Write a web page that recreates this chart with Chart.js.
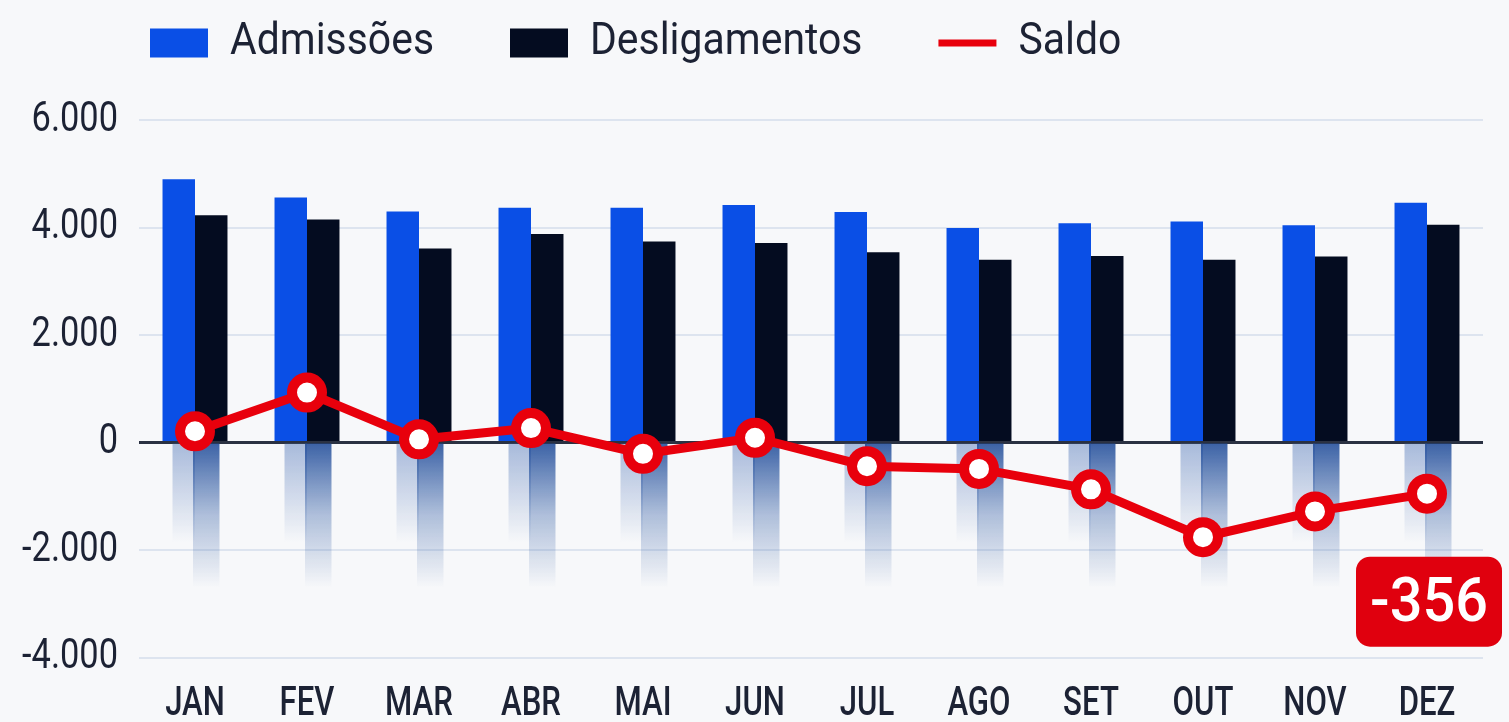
<!DOCTYPE html>
<html>
<head>
<meta charset="utf-8">
<script src="https://cdn.jsdelivr.net/npm/chart.js@4.4.1/dist/chart.umd.min.js"></script>
<style>
  html, body { margin: 0; padding: 0; background: #f7f8fa; }
  #wrap { width: 1509px; height: 722px; }
  canvas { display: block; }
</style>
</head>
<body>
<div id="wrap"><canvas id="c" width="1509" height="722"></canvas></div>
<script>
// ---- data ----
const categories = ['JAN', 'FEV', 'MAR', 'ABR', 'MAI', 'JUN', 'JUL', 'AGO', 'SET', 'OUT', 'NOV', 'DEZ'];
const admissoes = [4900, 4560, 4300, 4370, 4370, 4420, 4290, 3990, 4080, 4110, 4040, 4460];
const desligamentos = [4230, 4150, 3610, 3880, 3740, 3710, 3540, 3400, 3470, 3400, 3460, 4050];
const saldo = [210, 930, 60, 270, -210, 90, -440, -490, -870, -1760, -1280, -950];
const seriesNames = ['Admissões', 'Desligamentos', 'Saldo'];
const yTicks = [-4000, -2000, 0, 2000, 4000, 6000];
const yTickLabels = ['-4.000', '-2.000', '0', '2.000', '4.000', '6.000'];
const destaque = '-356';

// ---- styles ----
const BLUE = '#0a4fe6';
const DARK = '#040c20';
const RED = '#e8000c';
const TEXT = '#1c2234';
const FONT = 'Roboto, "Noto Sans", "DejaVu Sans", sans-serif';
const LEGEND_PAD = 76;

const canvas = document.getElementById('c');
const ctx = canvas.getContext('2d');

// condensed look: horizontal text compression per font size
function kFor(font) {
  const m = /(\d+(?:\.\d+)?)px/.exec(font || '');
  const s = m ? parseFloat(m[1]) : 12;
  if (s >= 55) return 0.93;
  if (s >= 44) return 0.93;
  if (s >= 43) return 0.80;
  return 0.76;
}
const origMeasure = ctx.measureText.bind(ctx);
const origFill = ctx.fillText.bind(ctx);
ctx.measureText = function (t) {
  const m = origMeasure(t);
  const k = kFor(this.font);
  return {
    width: m.width * k,
    actualBoundingBoxAscent: m.actualBoundingBoxAscent,
    actualBoundingBoxDescent: m.actualBoundingBoxDescent,
    actualBoundingBoxLeft: m.actualBoundingBoxLeft * k,
    actualBoundingBoxRight: m.actualBoundingBoxRight * k,
    fontBoundingBoxAscent: m.fontBoundingBoxAscent,
    fontBoundingBoxDescent: m.fontBoundingBoxDescent
  };
};
ctx.fillText = function (t, x, y) {
  const k = kFor(this.font);
  this.save();
  this.translate(x, y);
  this.scale(k, 1);
  origFill(t, 0, 0);
  this.restore();
};

const reflectionPlugin = {
  id: 'reflection',
  beforeDatasetsDraw(chart) {
    const c = chart.ctx;
    const y0 = chart.scales.y.getPixelForValue(0);
    c.save();
    [0, 1].forEach(di => {
      const meta = chart.getDatasetMeta(di);
      meta.data.forEach(bar => {
        const p = bar.getProps(['x', 'width'], true);
        const len = di === 0 ? 100 : 145;
        const g = c.createLinearGradient(0, y0, 0, y0 + len);
        if (di === 0) {
          g.addColorStop(0, 'rgba(70,110,180,0.45)');
          g.addColorStop(1, 'rgba(70,110,180,0)');
        } else {
          g.addColorStop(0, 'rgba(25,70,150,0.85)');
          g.addColorStop(0.5, 'rgba(40,85,160,0.35)');
          g.addColorStop(1, 'rgba(40,85,160,0)');
        }
        c.fillStyle = g;
        const left = p.x - p.width / 2 + (di === 0 ? 10 : -2);
        const w = p.width - (di === 0 ? 10 : 6);
        c.fillRect(left, y0 + 1, w, len);
      });
    });
    c.restore();
  }
};

const legendShift = {
  id: 'legendShift',
  beforeDraw(chart) {
    if (chart.legend) {
      chart.legend.top = 21 - LEGEND_PAD;
      chart.legend.left = 150 - LEGEND_PAD;
    }
  }
};

const badgePlugin = {
  id: 'badge',
  afterDatasetsDraw(chart) {
    const meta = chart.getDatasetMeta(2);
    const pt = meta.data[meta.data.length - 1];
    const c = chart.ctx;
    const w = 146, h = 90;
    const cx = pt.x + 2;
    const top = pt.y + 63;
    c.save();
    c.fillStyle = '#e0000e';
    c.beginPath();
    c.roundRect(cx - w / 2, top, w, h, 14);
    c.fill();
    c.fillStyle = '#ffffff';
    c.font = '500 62px ' + FONT;
    c.textAlign = 'center';
    c.textBaseline = 'middle';
    c.fillText(destaque, cx, top + h / 2 + 4);
    c.restore();
  }
};

new Chart(ctx, {
  data: {
    labels: categories,
    datasets: [
      {
        type: 'bar', label: seriesNames[0], data: admissoes,
        backgroundColor: BLUE, borderWidth: 0, order: 1,
        categoryPercentage: 0.58, barPercentage: 1.0
      },
      {
        type: 'bar', label: seriesNames[1], data: desligamentos,
        backgroundColor: DARK, borderWidth: 0, order: 1,
        categoryPercentage: 0.58, barPercentage: 1.0
      },
      {
        type: 'line', label: seriesNames[2], data: saldo,
        borderColor: RED, borderWidth: 9, tension: 0,
        pointRadius: 15, pointBorderWidth: 10,
        pointBackgroundColor: '#ffffff', pointBorderColor: RED,
        order: 0
      }
    ]
  },
  options: {
    responsive: false,
    animation: false,
    layout: { padding: { left: 0, right: 26, top: 20, bottom: 0 } },
    plugins: {
      tooltip: { enabled: false },
      legend: {
        position: 'top',
        align: 'start',
        maxHeight: 100,
        labels: {
          usePointStyle: true,
          pointStyleWidth: 58,
          boxHeight: 29,
          padding: LEGEND_PAD,
          color: TEXT,
          font: { family: FONT, size: 44, weight: '400' },
          generateLabels(chart) {
            const items = Chart.defaults.plugins.legend.labels.generateLabels(chart);
            items.sort((a, b) => a.datasetIndex - b.datasetIndex);
            items.forEach(it => {
              if (it.datasetIndex === 2) {
                it.pointStyle = 'line';
                it.lineWidth = 7;
                it.strokeStyle = RED;
                it.fillStyle = RED;
              } else {
                it.pointStyle = 'rect';
                it.lineWidth = 0;
              }
            });
            return items;
          }
        }
      }
    },
    scales: {
      x: {
        grid: { display: false },
        border: { display: false },
        afterFit(scale) { scale.height = 59; },
        ticks: {
          color: TEXT,
          padding: 15,
          maxRotation: 0,
          font: { family: FONT, size: 41, weight: '500', lineHeight: 0.9 }
        }
      },
      y: {
        min: -4100,
        max: 6000,
        afterBuildTicks(scale) { scale.ticks = yTicks.map(v => ({ value: v })); },
        afterFit(scale) { scale.width = 139; },
        border: { display: false },
        grid: {
          drawTicks: false,
          color: (c) => (c.tick && c.tick.value === 0) ? '#2a3142' : '#dde4ef',
          lineWidth: (c) => (c.tick && c.tick.value === 0) ? 3 : 2
        },
        ticks: {
          color: TEXT,
          padding: 21,
          font: { family: FONT, size: 43, weight: '400' },
          callback: (v) => {
            const i = yTicks.indexOf(v);
            return i >= 0 ? yTickLabels[i] : null;
          }
        }
      }
    }
  },
  plugins: [reflectionPlugin, legendShift, badgePlugin]
});
</script>
</body>
</html>
